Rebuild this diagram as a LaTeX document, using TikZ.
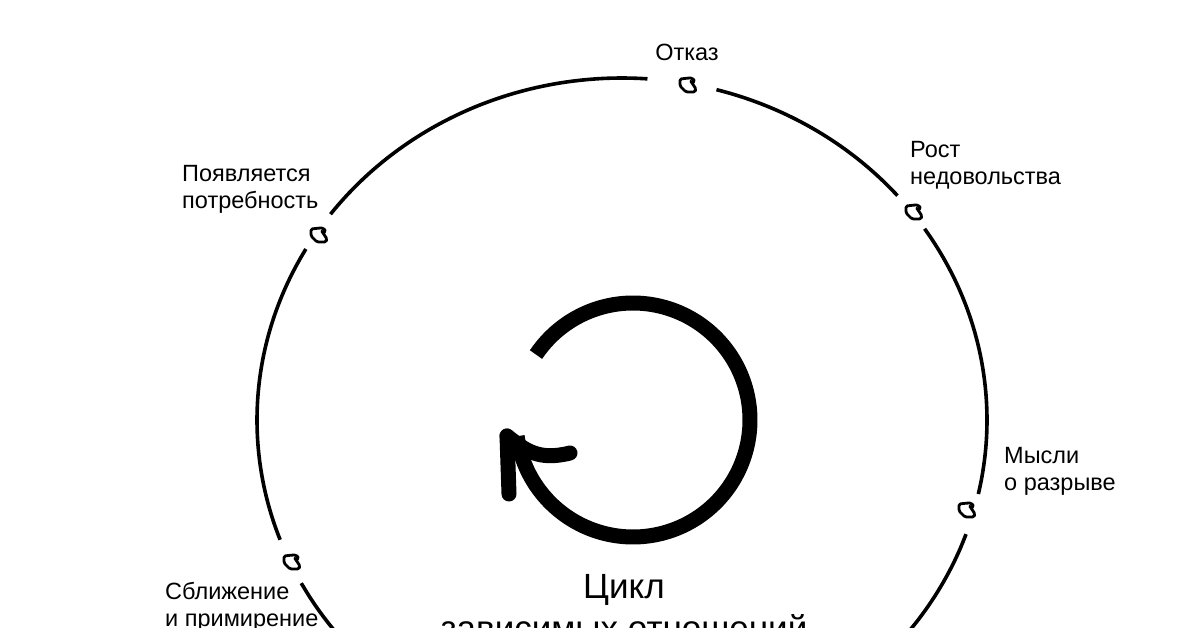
\documentclass[tikz,border=0pt]{standalone}
\usepackage{fontspec}
\setmainfont{Liberation Sans}
\begin{document}
\begin{tikzpicture}[x=1pt,y=-1pt,
  ring/.style={line width=3.6pt},
  mk/.style={line width=2.8pt, rounded corners=1.5pt, line join=round},
  lbl/.style={inner sep=0pt, font=\fontsize{23.5}{28}\selectfont},
  ttl/.style={inner sep=0pt, font=\fontsize{35}{42}\selectfont},
  icon/.style={line width=15pt}]
\useasboundingbox (0,0) rectangle (1200,628);
\clip (0,0) rectangle (1200,628);
\fill[white] (0,0) rectangle (1200,628);
% ring segments
\foreach \a/\b in {86/143, 150/200.5, 208.5/340.5, -12.5/34, 41/75}
  \draw[ring] plot[domain=\a:\b, samples=50, smooth] ({622+365*cos(\x)},{420-342*sin(\x)});
% markers
\coordinate (mA) at (688,85);
\coordinate (mB) at (914,212);
\coordinate (mC) at (967,510);
\coordinate (mD) at (292,562);
\coordinate (mE) at (319,235);
\foreach \m in {mA,mB,mC,mD,mE}
  \draw[mk, shift={(\m)}] (-8,-6) -- (1,-7) -- (4,-7) -- (7,-4) -- (4,-2) -- (2,-5) -- (4,-2) -- (8,4) -- (7,7) -- (-2,7) -- (-8,1) -- cycle;
% central icon
\coordinate (tip) at (507,436);
\draw[icon, line cap=butt] plot[domain=-172:146, samples=90, smooth] ({633+117*cos(\x)},{420-117*sin(\x)});
\draw[icon, line cap=round] (tip) -- (509,494);
\draw[icon, line cap=round] (tip) .. controls (525,450) and (538,461) .. (570,453);
% labels
\node[lbl, anchor=base] (otk) at (687,61) {Отказ};
\node[lbl, anchor=base west] (rost1) at (910,158) {Рост};
\node[lbl, anchor=base west] (rost2) at (910,185) {недовольства};
\node[lbl, anchor=base west] (pot1) at (182,182) {Появляется};
\node[lbl, anchor=base west] (pot2) at (182,209) {потребность};
\node[lbl, anchor=base west] (mys1) at (1004,463) {Мысли};
\node[lbl, anchor=base west] (mys2) at (1004,490) {о разрыве};
\node[lbl, anchor=base west] (sbl1) at (165,599) {Сближение};
\node[lbl, anchor=base west] (sbl2) at (165,626) {и примирение};
% title
\node[ttl, anchor=base] (t1) at (624,598) {Цикл};
\node[ttl, anchor=base] (t2) at (624,640) {зависимых отношений};
\end{tikzpicture}
\end{document}
